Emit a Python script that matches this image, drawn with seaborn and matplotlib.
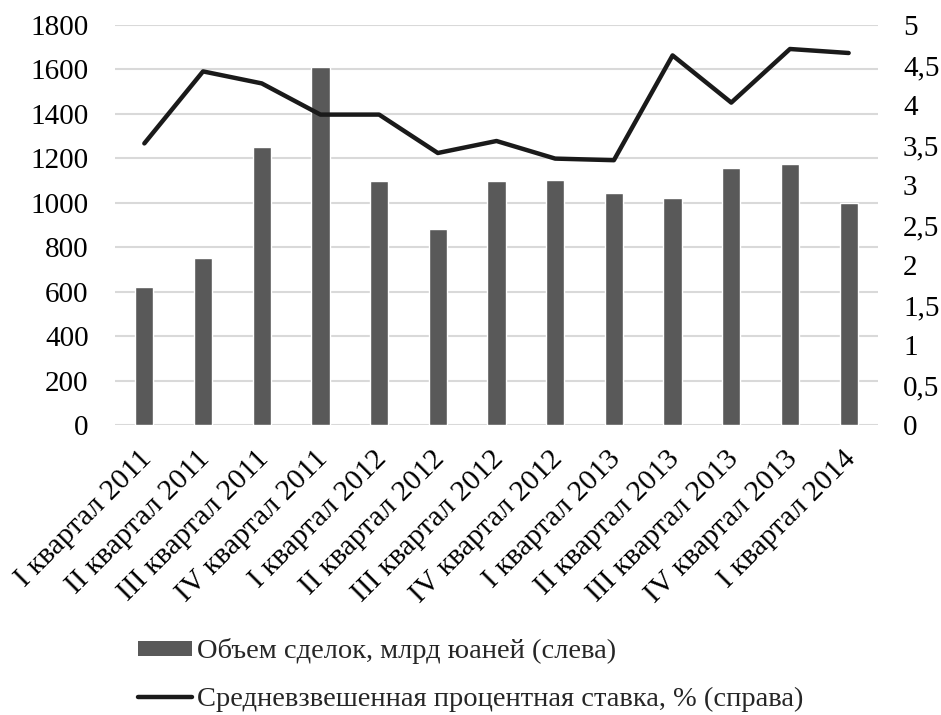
import numpy as np
import pandas as pd
import matplotlib
matplotlib.use("Agg")
import matplotlib.pyplot as plt
import matplotlib.transforms as mtransforms
import seaborn as sns
from matplotlib.patches import Patch
from matplotlib.lines import Line2D
from matplotlib.ticker import FuncFormatter

sns.set_style("white")
plt.rcParams['font.family'] = ['Liberation Serif', 'DejaVu Serif']

quarters = ["I квартал 2011", "II квартал 2011", "III квартал 2011", "IV квартал 2011",
            "I квартал 2012", "II квартал 2012", "III квартал 2012", "IV квартал 2012",
            "I квартал 2013", "II квартал 2013", "III квартал 2013", "IV квартал 2013",
            "I квартал 2014"]
volume = [620, 750, 1250, 1610, 1100, 880, 1098, 1102, 1043, 1022, 1155, 1175, 997]
rate = [3.52, 4.42, 4.27, 3.88, 3.88, 3.40, 3.55, 3.33, 3.31, 4.62, 4.03, 4.70, 4.65]

bar_label = "Объем сделок, млрд юаней (слева)"
line_label = "Средневзвешенная процентная ставка, % (справа)"

df = pd.DataFrame({"quarter": quarters, "volume": volume, "rate": rate})

fig = plt.figure(figsize=(9.41, 7.15), dpi=100)
ax = fig.add_axes([115/941, 1 - 425/715, (878-115)/941, 400/715])

sns.barplot(data=df, x="quarter", y="volume", color="#595959", width=0.31,
            saturation=1, ax=ax, zorder=2)
ax.set_ylim(0, 1800)
ax.set_yticks(np.arange(0, 1801, 200))
ax.grid(axis="y", color="#d9d9d9", linewidth=1.5, zorder=0)
ax.set_axisbelow(True)
ax.set_xlabel("")
ax.set_ylabel("")
ax.set_xlim(-0.5, len(quarters) - 0.5)

ax2 = ax.twinx()
sns.lineplot(x=np.arange(len(quarters)), y=rate, color="#1a1a1a", linewidth=3.2,
             sort=False, ax=ax2)
ax2.set_ylim(0, 5)
ax2.set_yticks(np.arange(0, 5.01, 0.5))
ax2.yaxis.set_major_formatter(FuncFormatter(lambda v, p: f"{v:g}".replace(".", ",")))

for a in (ax, ax2):
    for s in a.spines.values():
        s.set_visible(False)
    a.tick_params(length=0, labelsize=21, colors="black")

ax.tick_params(axis="y", pad=19)
ax2.tick_params(axis="y", pad=18)
ax.set_xticks(range(len(quarters)))
ax.set_xticklabels(quarters, rotation=45, ha="right", rotation_mode="anchor", fontsize=21.5)
ax.tick_params(axis="x", pad=15)
shift = mtransforms.ScaledTranslation(-6/100, 0, fig.dpi_scale_trans)
for lbl in ax.get_xticklabels():
    lbl.set_transform(lbl.get_transform() + shift)

handles = [Patch(facecolor="#595959", edgecolor="none"),
           Line2D([0], [0], color="#1a1a1a", linewidth=3.2)]
fig.legend(handles, [bar_label, line_label], loc="upper left",
           bbox_to_anchor=(127/941, 1 - 627/715), frameon=False, fontsize=20.5,
           handlelength=1.9, handleheight=0.45, handletextpad=0.15,
           labelspacing=0.8, borderaxespad=0)

fig.savefig("out.png", dpi=100)
